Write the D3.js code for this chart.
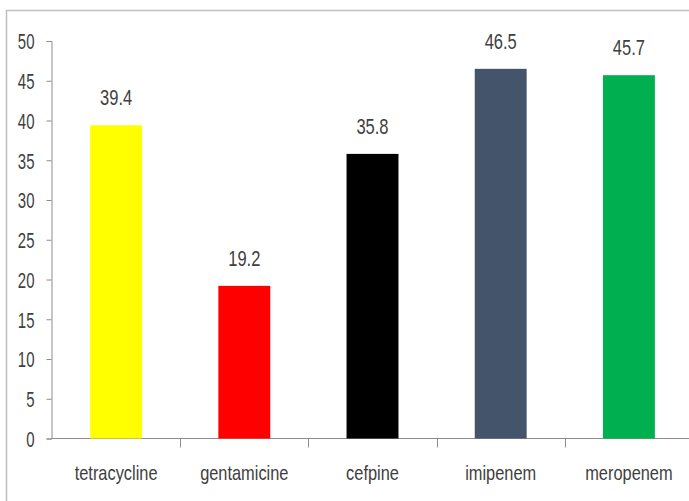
<!DOCTYPE html>
<html><head><meta charset="utf-8">
<script src="https://cdn.jsdelivr.net/npm/d3@7"></script>
<style>body{margin:0;background:#fff}svg{display:block}text{font-family:"Liberation Sans",Arial,sans-serif;fill:#404040}</style>
</head><body><svg id="c" width="689" height="501"></svg>
<script>
const categories = ["tetracycline","gentamicine","cefpine","imipenem","meropenem"];
const values = [39.4, 19.2, 35.8, 46.5, 45.7];
const colors = ["#FFFF00","#FF0000","#000000","#44546A","#00B050"];
const yTicks = [0,5,10,15,20,25,30,35,40,45,50];

const svg = d3.select("#c");
svg.append("rect").attr("x",6.5).attr("y",10.5).attr("width",800).attr("height",600)
  .attr("fill","none").attr("stroke","#bfbfbf").attr("stroke-width",1.5);

const x = d3.scaleBand().domain(categories).range([52, 693]).paddingInner(0).paddingOuter(0);
const y = d3.scaleLinear().domain([0,50]).range([438.5, 41]);
const axisColor = "#8c8c8c";

// y axis
const ya = svg.append("g").attr("transform","translate(51.5,0)")
  .call(d3.axisLeft(y).tickValues(yTicks).tickSize(5).tickPadding(12).tickFormat(d3.format("d")));
ya.select(".domain").attr("stroke",axisColor);
ya.selectAll(".tick line").attr("stroke",axisColor);
ya.selectAll(".tick text").attr("font-size",22).attr("font-family","Liberation Sans, Arial, sans-serif")
  .attr("fill","#404040")
  .attr("transform", function(){ return "scale(0.68,1)"; })
  .attr("x", -17/0.68).attr("dy","0.36em");

// x axis line
svg.append("line").attr("x1",51.5).attr("x2",693).attr("y1",y(0)).attr("y2",y(0)).attr("stroke",axisColor);
// category separator ticks
const bounds = categories.map(c => x(c)).concat([x(categories[categories.length-1]) + x.step()]);
svg.selectAll("line.sep").data(bounds.slice(1)).join("line").attr("class","sep")
  .attr("x1",d=>Math.round(d)+0.5).attr("x2",d=>Math.round(d)+0.5)
  .attr("y1",y(0)).attr("y2",y(0)+9).attr("stroke",axisColor);

// bars
const bw = x.step()*0.405;
svg.selectAll("rect.bar").data(values).join("rect").attr("class","bar")
  .attr("x",(d,i)=>x(categories[i]) + x.bandwidth()/2 - bw/2)
  .attr("width",bw)
  .attr("y",d=>y(d)).attr("height",d=>y(0)-y(d))
  .attr("fill",(d,i)=>colors[i]);

// value labels
svg.selectAll("text.val").data(values).join("text").attr("class","val")
  .attr("text-anchor","middle").attr("font-size",22)
  .attr("transform",(d,i)=>`translate(${x(categories[i]) + x.bandwidth()/2},${y(d)-20}) scale(0.75,1)`)
  .text(d=>d.toFixed(1));

// category labels
svg.selectAll("text.cat").data(categories).join("text").attr("class","cat")
  .attr("text-anchor","middle").attr("font-size",20)
  .attr("transform",(d)=>`translate(${x(d) + x.bandwidth()/2},480) scale(0.82,1)`)
  .text(d=>d);
</script></body></html>
